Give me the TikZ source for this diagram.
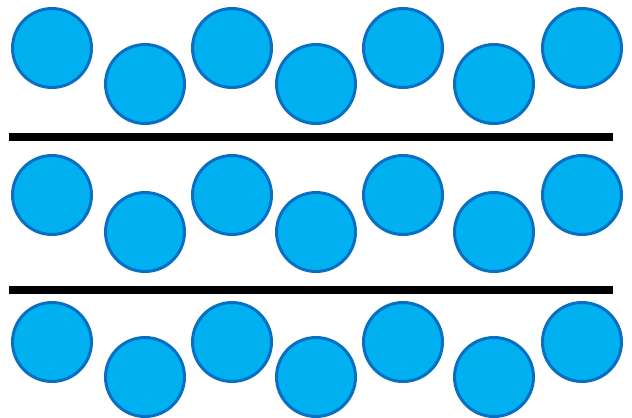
\documentclass[tikz,border=0pt]{standalone}
\usepackage{tikz}
\definecolor{ballfill}{RGB}{0,176,240}
\definecolor{balledge}{RGB}{10,110,195}
\tikzset{
  ball/.style={circle,draw=balledge,fill=ballfill,line width=1.7pt,
               minimum size=1.58cm,inner sep=0pt},
  divider/.style={black,line width=4pt},
}
\begin{document}
\begin{tikzpicture}[x=0.02cm,y=-0.02cm]
    \useasboundingbox (0,0) rectangle (632,417);

    % three rows of balls, alternating high and low
    \foreach \r/\yu/\yd in {1/48/84,2/195/232,3/342/377}{
      \foreach \c/\xx/\hi in {1/52/1,2/145/0,3/232/1,4/316/0,5/403/1,6/494/0,7/582/1}{
        \ifnum\hi=1
          \node[ball] (b\r\c) at (\xx,\yu) {};
        \else
          \node[ball] (b\r\c) at (\xx,\yd) {};
        \fi
      }
    }

    % dividers between rows
    \coordinate (l1a) at (9,137);  \coordinate (l1b) at (613,137);
    \coordinate (l2a) at (9,290);  \coordinate (l2b) at (613,290);
    \draw[divider] (l1a) -- (l1b);
    \draw[divider] (l2a) -- (l2b);

\end{tikzpicture}
\end{document}
